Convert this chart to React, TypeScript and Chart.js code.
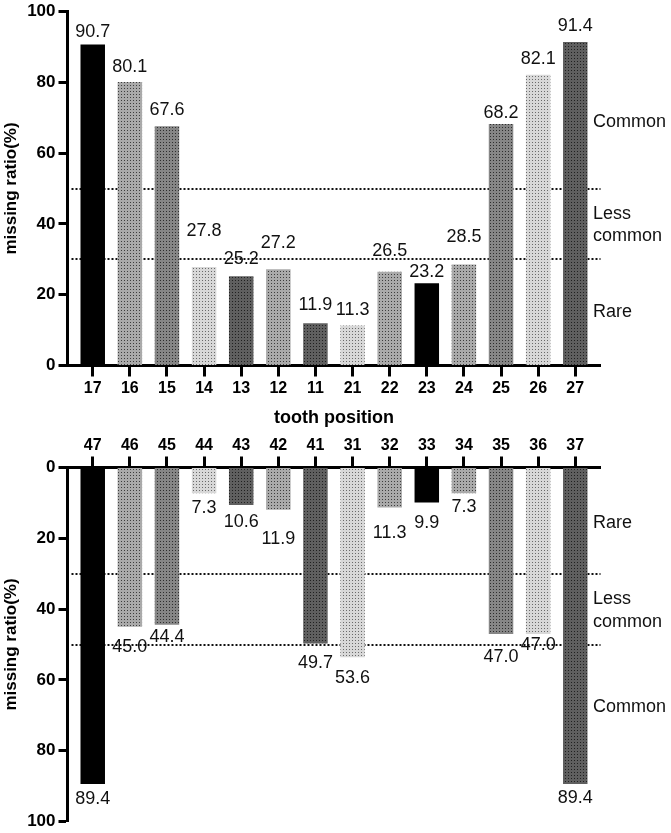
import { useEffect, useRef } from 'react';
import { Chart, registerables, type ChartConfiguration, type Plugin } from 'chart.js';

Chart.register(...registerables);

const FONT = "'Liberation Sans', Arial, Helvetica, sans-serif";
Chart.defaults.font.family = FONT;

const upperTeeth = ['17', '16', '15', '14', '13', '12', '11', '21', '22', '23', '24', '25', '26', '27'];
const upperMissing = [90.7, 80.1, 67.6, 27.8, 25.2, 27.2, 11.9, 11.3, 26.5, 23.2, 28.5, 68.2, 82.1, 91.4];
const lowerTeeth = ['47', '46', '45', '44', '43', '42', '41', '31', '32', '33', '34', '35', '36', '37'];
const lowerMissing = [89.4, 45.0, 44.4, 7.3, 10.6, 11.9, 49.7, 53.6, 11.3, 9.9, 7.3, 47.0, 47.0, 89.4];
const yTicks = [0, 20, 40, 60, 80, 100];
const thresholds = [30, 50];
const zoneNames = [['Common'], ['Less', 'common'], ['Rare']];
const upperZoneAnchors = [67.4, 41.5, 13.7];
const lowerZoneAnchors = [69, 38.7, 17];

// gap (px) between bar end and its value, nudged by hand as in the figure
const upperLabelGap = [12, 15, 16, 36, 17, 26, 18, 15, 21, 11, 28, 11, 16, 16];
const lowerLabelGap = [15, 20, 12, 15, 17, 29, 20, 21, 26, 20, 14, 23, 11, 14];
const fillKinds = ['black', 'medium', 'dark', 'light', 'darkest', 'medium', 'darkest', 'light', 'medium', 'black', 'medium', 'dark', 'light', 'darkest'];

// base, dot
const SHADES: Record<string, [string, string] | null> = {
  black: null,
  light: ['#d8d8d8', '#6a6a6a'],
  medium: ['#aaaaaa', '#3e3e3e'],
  dark: ['#868686', '#2e2e2e'],
  darkest: ['#5f5f5f', '#202020'],
};

function makeFill(kind: string): string | CanvasPattern {
  const shade = SHADES[kind];
  if (!shade) return '#000';
  const tile = document.createElement('canvas');
  tile.width = 3;
  tile.height = 3;
  const c = tile.getContext('2d')!;
  c.fillStyle = shade[0];
  c.fillRect(0, 0, 3, 3);
  c.fillStyle = shade[1];
  c.fillRect(1, 1, 1, 1);
  return c.createPattern(tile, 'repeat') ?? shade[0];
}

const thresholdLines: Plugin<'bar'> = {
  id: 'thresholdLines',
  beforeDatasetsDraw(chart) {
    const { ctx, chartArea, scales } = chart;
    ctx.save();
    ctx.strokeStyle = '#111';
    ctx.lineWidth = 2;
    ctx.setLineDash([2, 2]);
    thresholds.forEach((t) => {
      const y = Math.round(scales.y.getPixelForValue(t));
      ctx.beginPath();
      ctx.moveTo(chartArea.left + 4, y);
      ctx.lineTo(chartArea.right, y);
      ctx.stroke();
    });
    ctx.restore();
  },
};

function valueLabels(gaps: number[], down: boolean): Plugin<'bar'> {
  return {
    id: 'valueLabels',
    afterDatasetsDraw(chart) {
      const { ctx } = chart;
      const meta = chart.getDatasetMeta(0);
      const data = chart.data.datasets[0].data as any[];
      ctx.save();
      ctx.font = `18px ${FONT}`;
      ctx.fillStyle = '#111';
      ctx.textAlign = 'center';
      ctx.textBaseline = 'middle';
      meta.data.forEach((el, i) => {
        const { x, y } = el.getProps(['x', 'y'], true) as { x: number; y: number };
        ctx.fillText(data[i].y.toFixed(1), x, down ? y + gaps[i] : y - gaps[i]);
      });
      ctx.restore();
    },
  };
}

function zoneLabels(anchors: number[]): Plugin<'bar'> {
  return {
    id: 'zoneLabels',
    afterDraw(chart) {
      const { ctx, chartArea, scales } = chart;
      ctx.save();
      ctx.font = `18px ${FONT}`;
      ctx.fillStyle = '#111';
      ctx.textAlign = 'left';
      ctx.textBaseline = 'alphabetic';
      zoneNames.forEach((lines, k) => {
        const y0 = scales.y.getPixelForValue(anchors[k]);
        lines.forEach((t, j) => ctx.fillText(t, chartArea.right - 7.5, y0 + j * 22.5));
      });
      ctx.restore();
    },
  };
}

interface PanelSpec {
  labels: string[];
  values: number[];
  gaps: number[];
  anchors: number[];
  lower: boolean;
  xAxisHeight: number;
}

function buildConfig(p: PanelSpec): ChartConfiguration<'bar'> {
  return {
    type: 'bar',
    data: {
      datasets: [
        {
          data: p.values.map((v, i) => ({ x: i, y: v })) as any,
          backgroundColor: fillKinds.map(makeFill) as any,
          borderWidth: 0,
          barPercentage: 0.66,
          categoryPercentage: 1,
        },
      ],
    },
    options: {
      responsive: false,
      animation: false,
      layout: {
        padding: p.lower
          ? { top: 0, left: 0, right: 70.5, bottom: 10 }
          : { top: 10, left: 0, right: 70.5, bottom: 0 },
      },
      plugins: { legend: { display: false }, tooltip: { enabled: false } },
      scales: {
        x: {
          type: 'linear',
          offset: false,
          position: p.lower ? 'top' : 'bottom',
          min: -0.68,
          max: p.labels.length - 1 + 0.68,
          afterBuildTicks: (s: any) => {
            s.ticks = p.labels.map((_, i) => ({ value: i }));
          },
          afterFit: (s: any) => {
            s.height = p.xAxisHeight;
          },
          ticks: {
            callback: (_v: any, i: number) => p.labels[i] ?? '',
            font: { size: 16, weight: 'bold' },
            color: '#000',
            padding: p.lower ? 1 : 2,
            autoSkip: false,
            maxRotation: 0,
          },
          grid: {
            offset: false,
            drawOnChartArea: false,
            tickLength: 11,
            tickWidth: 3,
            tickColor: '#000',
            color: '#000',
          },
          border: { color: '#000', width: 3 },
          title: p.lower
            ? { display: false }
            : {
                display: true,
                text: 'tooth position',
                font: { size: 18, weight: 'bold' },
                color: '#000',
                padding: { top: 0, bottom: 3 },
              },
        },
        y: {
          min: 0,
          max: 100,
          reverse: p.lower,
          afterFit: (s: any) => {
            s.width = 67.5;
          },
          afterBuildTicks: (s: any) => {
            s.ticks = yTicks.map((v) => ({ value: v }));
          },
          ticks: { font: { size: 17, weight: 'bold', lineHeight: 1 }, color: '#000', padding: 3 },
          grid: { drawOnChartArea: false, tickLength: 9, tickWidth: 3, tickColor: '#000', color: '#000' },
          border: { color: '#000', width: 3 },
          title: {
            display: true,
            text: 'missing ratio(%)',
            font: { size: 17, weight: 'bold' },
            color: '#000',
            padding: { top: 1, bottom: 0 },
          },
        },
      },
    },
    plugins: [thresholdLines, valueLabels(p.gaps, p.lower), zoneLabels(p.anchors)],
  };
}

function JawChart({ spec, top, height }: { spec: PanelSpec; top: number; height: number }) {
  const canvasRef = useRef<HTMLCanvasElement>(null);

  useEffect(() => {
    if (!canvasRef.current) return;
    const chart = new Chart(canvasRef.current, buildConfig(spec));
    return () => chart.destroy();
  }, [spec]);

  return (
    <canvas
      ref={canvasRef}
      width={671}
      height={height}
      style={{ position: 'absolute', left: 0, top, width: 671, height }}
    />
  );
}

const upperSpec: PanelSpec = {
  labels: upperTeeth,
  values: upperMissing,
  gaps: upperLabelGap,
  anchors: upperZoneAnchors,
  lower: false,
  xAxisHeight: 66.5,
};

const lowerSpec: PanelSpec = {
  labels: lowerTeeth,
  values: lowerMissing,
  gaps: lowerLabelGap,
  anchors: lowerZoneAnchors,
  lower: true,
  xAxisHeight: 35.5,
};

export default function App() {
  return (
    <div style={{ position: 'absolute', left: 0, top: 0, width: 671, height: 833, background: '#fff' }}>
      <JawChart spec={upperSpec} top={0} height={432} />
      <JawChart spec={lowerSpec} top={432} height={401} />
    </div>
  );
}
